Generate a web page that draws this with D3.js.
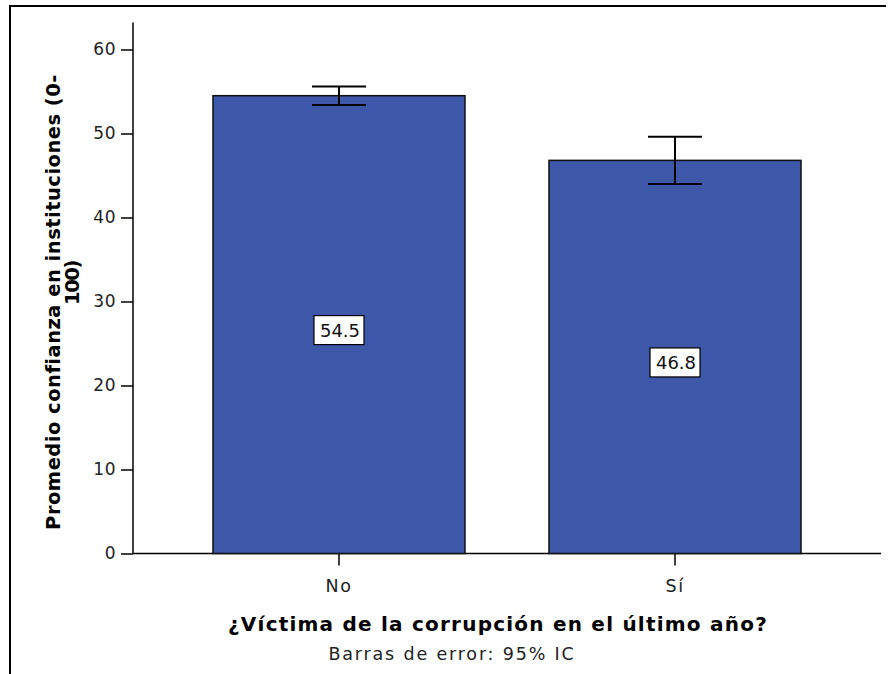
<!DOCTYPE html>
<html><head><meta charset="utf-8">
<script src="https://cdn.jsdelivr.net/npm/d3@7"></script>
<style>body{margin:0;background:#fff}svg{display:block}</style>
</head><body>
<script>
const categories = ["No", "Sí"];
const means = [54.5, 46.8];
const ciLow = [53.4, 44.0];
const ciHigh = [55.6, 49.6];
const yTicks = [0, 10, 20, 30, 40, 50, 60];
const xTitle = "¿Víctima de la corrupción en el último año?";
const yTitle1 = "Promedio confianza en instituciones (0-";
const yTitle2 = "100)";
const footnote = "Barras de error: 95% IC";

const W = 888, H = 674;
const font = "DejaVu Sans, Verdana, sans-serif";
const svg = d3.select("body").append("svg").attr("width", W).attr("height", H);

function fit(sel, target) {
  sel.each(function () {
    const n = this.textContent.length;
    const nat = this.getComputedTextLength();
    d3.select(this).attr("letter-spacing", ((target - nat) / n).toFixed(2));
  });
}

// frame
svg.append("line").attr("x1", 10).attr("x2", 886).attr("y1", 6).attr("y2", 6).attr("stroke", "#000").attr("stroke-width", 2);
svg.append("line").attr("x1", 10).attr("x2", 10).attr("y1", 5).attr("y2", H).attr("stroke", "#000").attr("stroke-width", 2);

const x = d3.scaleBand().domain(categories).range([133, 881]).paddingInner(0.25).paddingOuter(0.238);
const y = d3.scaleLinear().domain([0, 63.2]).range([553.5, 22.6]);

// y axis
const ya = svg.append("g").attr("transform", "translate(133,0)")
  .call(d3.axisLeft(y).tickValues(yTicks).tickSize(12).tickPadding(5).tickFormat(d3.format("d")));
ya.select(".domain").attr("d", `M0,${y(63.2)}V${y(0)}`).attr("stroke-width", 1.5);
ya.selectAll(".tick line").attr("stroke-width", 1.5);
ya.selectAll("text").attr("font-family", font).attr("font-size", 17).attr("fill", "#222").attr("letter-spacing", 0.5);

// x axis
const xa = svg.append("g").attr("transform", `translate(0,${y(0)})`)
  .call(d3.axisBottom(x).tickSize(12).tickPadding(14));
xa.select(".domain").attr("d", `M133,0H881`).attr("stroke-width", 1.5);
xa.selectAll(".tick line").attr("stroke-width", 1.5);
xa.selectAll("text").attr("font-family", font).attr("font-size", 17.5).attr("fill", "#222").attr("letter-spacing", 1.5);

// bars
const data = categories.map((c, i) => ({c, m: means[i], lo: ciLow[i], hi: ciHigh[i]}));
svg.append("g").selectAll("rect").data(data).join("rect")
  .attr("x", d => x(d.c)).attr("width", x.bandwidth())
  .attr("y", d => y(d.m)).attr("height", d => y(0) - y(d.m))
  .attr("fill", "#3d57a9").attr("stroke", "#111").attr("stroke-width", 1.5);

// error bars
const eb = svg.append("g").attr("stroke", "#000").attr("stroke-width", 2);
data.forEach(d => {
  const cx = x(d.c) + x.bandwidth() / 2;
  eb.append("line").attr("x1", cx).attr("x2", cx).attr("y1", y(d.hi)).attr("y2", y(d.lo));
  eb.append("line").attr("x1", cx - 27).attr("x2", cx + 27).attr("y1", y(d.hi)).attr("y2", y(d.hi));
  eb.append("line").attr("x1", cx - 27).attr("x2", cx + 27).attr("y1", y(d.lo)).attr("y2", y(d.lo));
});

// value labels
const lab = svg.append("g");
data.forEach(d => {
  const cx = x(d.c) + x.bandwidth() / 2;
  const cy = y(d.m / 2) + 5;
  lab.append("rect").attr("x", cx - 25).attr("y", cy - 14).attr("width", 50).attr("height", 29)
    .attr("fill", "#fff").attr("stroke", "#000").attr("stroke-width", 1.2);
  const t = lab.append("text").attr("x", cx + 1).attr("y", cy + 7)
    .attr("text-anchor", "middle").attr("font-family", font).attr("font-size", 18).attr("fill", "#111")
    .text(d3.format(".1f")(d.m));
  fit(t, 40);
});

// titles
fit(svg.append("text").attr("x", 498).attr("y", 631).attr("text-anchor", "middle")
  .attr("font-family", font).attr("font-size", 20).attr("font-weight", "bold").text(xTitle), 540);
fit(svg.append("text").attr("x", 452).attr("y", 660).attr("text-anchor", "middle")
  .attr("font-family", font).attr("font-size", 17.5).attr("fill", "#222").text(footnote), 247);
fit(svg.append("text").attr("transform", "translate(60,302) rotate(-90)").attr("text-anchor", "middle")
  .attr("font-family", font).attr("font-size", 19.5).attr("font-weight", "bold").text(yTitle1), 455);
fit(svg.append("text").attr("transform", "translate(79,283) rotate(-90)").attr("text-anchor", "middle")
  .attr("font-family", font).attr("font-size", 19.5).attr("font-weight", "bold").text(yTitle2), 44);
</script>
</body></html>
